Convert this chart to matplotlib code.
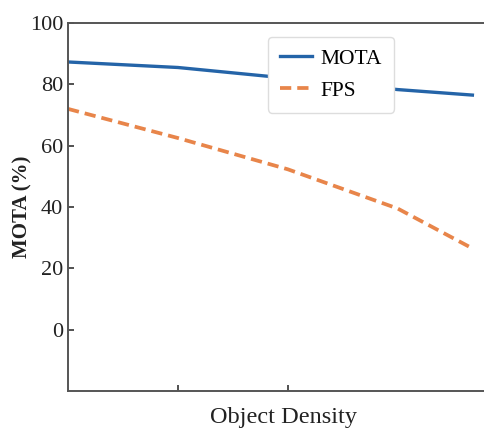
import matplotlib.pyplot as plt

density = [0, 1, 2, 3, 3.68]
mota = [87.3, 85.5, 82.0, 78.3, 76.5]
fps = [72.0, 62.5, 52.3, 39.5, 26.5]
x_ticks = [1, 2]
y_ticks = [0, 20, 40, 60, 80, 100]


def main():
	plt.rcParams['font.family'] = ['Liberation Serif', 'DejaVu Serif']
	fig = plt.figure(figsize=(4.84, 4.37), dpi=100)
	# axes run past the right edge, like the cropped original
	ax = fig.add_axes([0.1405, 0.1053, 0.89, 0.842])

	ax.plot(density, mota, color='#2464a8', lw=2.4, label='MOTA')
	ax.plot(density, fps, color='#e8854a', lw=2.7, ls=(0, (3, 1.6)), label='FPS')

	ax.set_xlim(0, 3.92)
	ax.set_ylim(-20, 100)
	ax.set_xticks(x_ticks)
	ax.set_xticklabels([])
	ax.set_yticks(y_ticks)
	ax.tick_params(direction='in', length=4, width=1.2, labelsize=16, colors='#333333', labelcolor='#222222')
	for sp in ax.spines.values():
		sp.set_color('#555555')
		sp.set_linewidth(1.4)

	ax.set_xlabel('Object Density', fontsize=17.5, labelpad=8, color='#222222')
	ax.set_ylabel('MOTA (%)', fontsize=15, fontweight='bold', labelpad=-2, color='#222222')

	leg = ax.legend(loc='upper left', bbox_to_anchor=(0.464, 0.962), borderaxespad=0,
		fontsize=15.5, handlelength=1.5, handletextpad=0.4, borderpad=0.55, labelspacing=0.55,
		framealpha=1, edgecolor='#dddddd', fancybox=True)
	leg.get_frame().set_linewidth(1.0)

	fig.savefig('out.png', dpi=100)


if __name__ == '__main__':
	main()
